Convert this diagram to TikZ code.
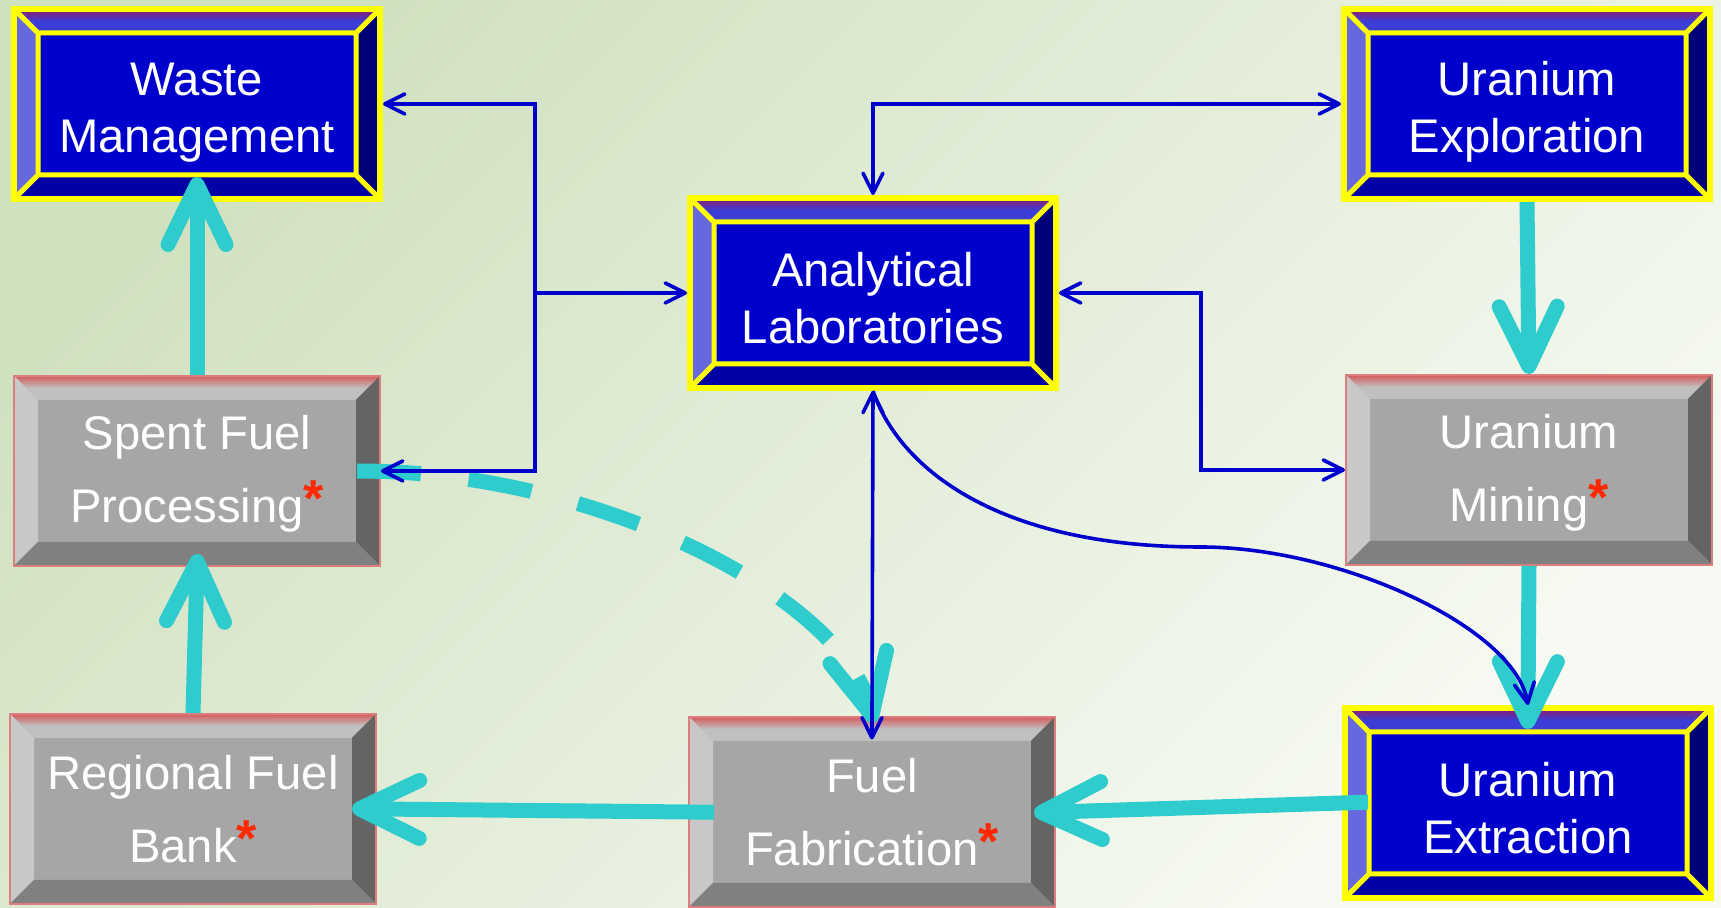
\documentclass[tikz,border=0pt]{standalone}
\usepackage{fontspec}
\setmainfont{Liberation Sans}
\usetikzlibrary{arrows.meta, calc}

\definecolor{bgtop}{RGB}{208,225,192}
\definecolor{bgbot}{RGB}{247,250,243}
\definecolor{bface}{RGB}{0,0,204}
\definecolor{btopa}{RGB}{150,25,100}
\definecolor{btopb}{RGB}{60,60,215}
\definecolor{bleft}{RGB}{104,104,222}
\definecolor{bright}{RGB}{0,0,120}
\definecolor{bbottom}{RGB}{0,0,165}
\definecolor{byellow}{RGB}{255,255,0}
\definecolor{gface}{RGB}{166,166,166}
\definecolor{gtopa}{RGB}{214,92,92}
\definecolor{gtopb}{RGB}{192,192,192}
\definecolor{gleft}{RGB}{200,200,200}
\definecolor{gright}{RGB}{100,100,100}
\definecolor{gbottom}{RGB}{128,128,128}
\definecolor{gedge}{RGB}{222,125,125}
\definecolor{flow}{RGB}{46,204,204}
\definecolor{link}{RGB}{0,0,204}
\definecolor{starred}{RGB}{255,40,0}

\newcommand{\bevw}{12pt}
\newcommand{\bevelfill}[5]{%
  \path (path picture bounding box.north west) coordinate (bnw)
        (path picture bounding box.north east) coordinate (bne)
        (path picture bounding box.south west) coordinate (bsw)
        (path picture bounding box.south east) coordinate (bse);
  \shade[top color=#1, bottom color=#2, middle color=#2] (bnw) -- (bne) -- ($(bne)+(-\bevw,-\bevw)$) -- ($(bnw)+(\bevw,-\bevw)$) -- cycle;
  \fill[#3] (bnw) -- ($(bnw)+(\bevw,-\bevw)$) -- ($(bsw)+(\bevw,\bevw)$) -- (bsw) -- cycle;
  \fill[#4] (bne) -- ($(bne)+(-\bevw,-\bevw)$) -- ($(bse)+(-\bevw,\bevw)$) -- (bse) -- cycle;
  \fill[#5] (bsw) -- ($(bsw)+(\bevw,\bevw)$) -- ($(bse)+(-\bevw,\bevw)$) -- (bse) -- cycle;
}
\newcommand{\redstar}{\textcolor{starred}{\raisebox{3pt}{\fontsize{26}{26}\selectfont\bfseries *}}}
% line struts: top of blue text, top of gray text, bottom of both
\newcommand{\tb}{\rule{0pt}{24.5pt}}
\newcommand{\tg}{\rule{0pt}{20pt}}
\newcommand{\bl}{\rule[-2.5pt]{0pt}{2.5pt}}

\tikzset{
  bevbox/.style={rectangle, minimum width=183pt, minimum height=95pt, inner sep=0pt,
    text=white, align=center},
  bluebox/.style={bevbox, fill=bface, draw=byellow, line width=3pt,
    font=\fontsize{23.6}{28.5}\selectfont,
    path picture={\bevelfill{btopa}{btopb}{bleft}{bright}{bbottom}
      \draw[byellow, line width=2.5pt] ($(bnw)+(\bevw,-\bevw)$) rectangle ($(bse)+(-\bevw,\bevw)$)
        (bnw) -- ++(\bevw,-\bevw) (bne) -- ++(-\bevw,-\bevw)
        (bsw) -- ++(\bevw,\bevw) (bse) -- ++(-\bevw,\bevw);}},
  graybox/.style={bevbox, fill=gface, draw=gedge, line width=1pt,
    font=\fontsize{23.6}{36.5}\selectfont,
    path picture={\bevelfill{gtopa}{gtopb}{gleft}{gright}{gbottom}}},
  flowline/.style={draw=flow, line width=7.5pt,
    >={Straight Barb[length=30pt, width=29pt, round]}, ->},
  linkline/.style={draw=link, line width=1.8pt,
    >={Straight Barb[length=10pt, width=10pt, round]}},
}

\begin{document}
\begin{tikzpicture}[x=0.5pt, y=0.5pt]
  \useasboundingbox (0,0) rectangle (1721,908);
  \shade[top color=bgtop, bottom color=bgbot, shading angle=45] (0,0) rectangle (1721,908);

  % boxes
  \node[bluebox] (waste) at (197,804) {\tb Waste\\Management\bl};
  \node[bluebox] (expl) at (1527,804) {\tb Uranium\\Exploration\bl};
  \node[bluebox] (lab) at (873,615) {\tb Analytical\\Laboratories\bl};
  \node[graybox] (spent) at (197,437) {\tg Spent Fuel\\Processing\redstar\bl};
  \node[graybox] (mining) at (1529,438) {\tg Uranium\\Mining\redstar\bl};
  \node[graybox] (bank) at (193,99) {\tg Regional Fuel\\Bank\redstar\bl};
  \node[graybox] (fab) at (872,96) {\tg Fuel\\Fabrication\redstar\bl};
  \node[bluebox] (extr) at (1528,105) {\tb Uranium\\Extraction\bl};

  % fuel cycle flow
  \draw[flowline, shorten >=-12.5pt] (spent.north) -- (waste.south);
  \draw[flowline, shorten >=-6.5pt] (bank.north) -- (spent.south);
  \draw[flowline] (expl.south) -- (mining.north);
  \draw[flowline, shorten >=-12pt] (mining.south) -- (extr.north);
  \draw[flowline, shorten <=-13pt, shorten >=-11pt] (extr.west) -- (fab.east);
  \draw[flowline, shorten <=-13pt, shorten >=-12.5pt] (fab.west) -- (bank.east);
  \draw[flowline, dash pattern=on 32pt off 24pt, shorten <=-12pt, shorten >=-3.5pt]
    (spent.east) .. controls (600,438) and (845,308) .. (fab.north);

  % lab links
  \coordinate (jl) at (535,615);
  \coordinate (jr) at (1201,615);
  \coordinate (bend) at (1200,361);
  \draw[linkline, <->] (waste.east) -| (jl) |- (spent.east);
  \draw[linkline, ->] (jl) -- (lab.west);
  \draw[linkline, <->] (lab.north) |- (expl.west);
  \draw[linkline, <->] (lab.east) -- (jr) |- (mining.west);
  \draw[linkline, <->, shorten >=-11.75pt] (lab.south) -- (fab.north);
  \draw[linkline, ->] (lab.south) .. controls (900,438) and (1000,361) .. (bend)
    .. controls (1341,361) and (1515,280) .. (extr.north);
\end{tikzpicture}
\end{document}
